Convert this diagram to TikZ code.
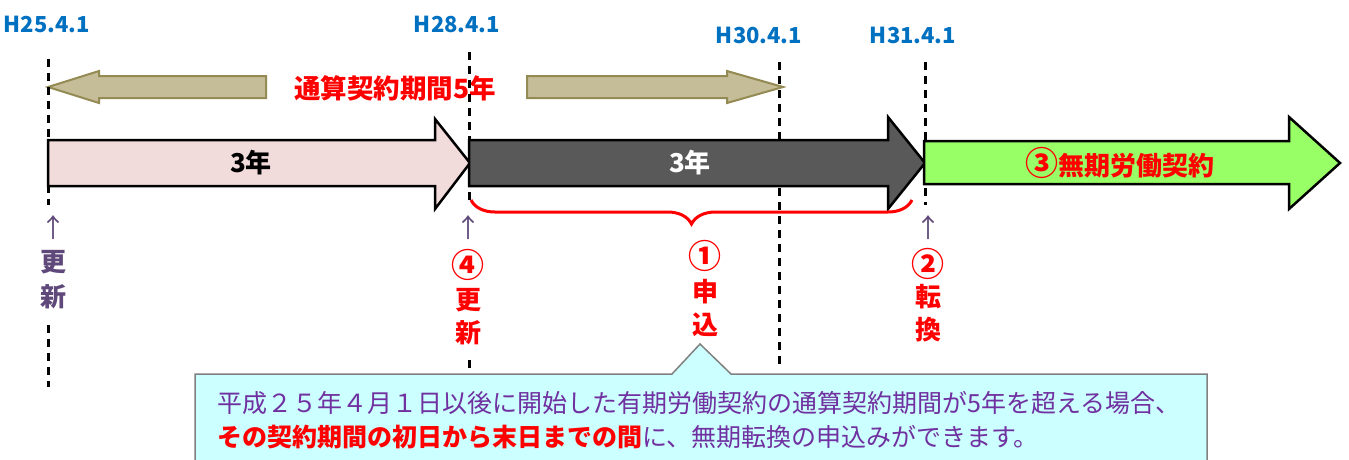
\documentclass[tikz,border=0pt]{standalone}
\usepackage{fontspec}
\setmainfont{Noto Sans CJK JP}
\usetikzlibrary{decorations.pathreplacing}
\definecolor{tanfill}{HTML}{C4BD97}
\definecolor{tanline}{HTML}{948A54}
\definecolor{pinkfill}{HTML}{F2DCDB}
\definecolor{darkfill}{HTML}{595959}
\definecolor{greenfill}{HTML}{99FF66}
\definecolor{dateblue}{HTML}{0070C0}
\definecolor{mypurple}{HTML}{5F497A}
\definecolor{textpurple}{HTML}{7030A0}
\definecolor{calloutfill}{HTML}{CCFFFF}
\definecolor{calloutline}{HTML}{808080}
\definecolor{myred}{HTML}{FF0000}
\newcommand{\circnum}[1]{{\fontsize{33}{36}\selectfont #1}}
\begin{document}
\begin{tikzpicture}[x=1pt,y=-1pt,
  datelbl/.style={text=dateblue,font=\fontsize{22}{26}\selectfont\bfseries,inner sep=0pt},
  vline/.style={black,line width=3pt,dash pattern=on 8pt off 6pt},
  tanarrow/.style={fill=tanfill,draw=tanline,line width=2pt,line join=miter},
  bigarrow/.style={draw=black,line width=2.5pt,line join=miter},
  arrowlbl/.style={inner sep=0pt,font=\fontsize{26}{30}\selectfont\bfseries},
  colchar/.style={inner sep=0pt,font=\fontsize{26}{30}\selectfont\bfseries},
  circchar/.style={inner sep=0pt,font=\fontsize{33}{36}\selectfont\bfseries},
  uparrow/.style={inner sep=0pt,text=mypurple,font=\fontsize{26}{30}\selectfont},
  callout/.style={fill=calloutfill,draw=calloutline,line width=1.5pt,line join=miter},
  callouttext/.style={anchor=west,inner sep=0pt,text=textpurple,font=\fontsize{25}{30}\selectfont}
]
\useasboundingbox (0,0) rectangle (1349,459);
\clip (0,0) rectangle (1349,459);

% date labels
\node[datelbl] (h25) at (47,24.5) {H25.4.1};
\node[datelbl] (h28) at (457,24.5) {H28.4.1};
\node[datelbl] (h30) at (759,35) {H30.4.1};
\node[datelbl] (h31) at (913,35) {H31.4.1};

% tan arrows (total 5 years)
\draw[tanarrow] (266,76) -- (99,76) -- (99,71) -- (48,87) -- (99,103) -- (99,98) -- (266,98) -- cycle;
\draw[tanarrow] (527,76) -- (727,76) -- (727,71) -- (783,87) -- (727,103) -- (727,98) -- (527,98) -- cycle;
\node[inner sep=0pt,text=myred,font=\fontsize{26.5}{30}\selectfont\bfseries] (total) at (395,88.5) {通算契約期間5年};

% dashed guide lines
\draw[vline] (48,59) -- (48,205);
\draw[vline] (48,325) -- (48,387);
\draw[vline] (469,52) -- (469,205);
\draw[vline] (469,360) -- (469,376);
\draw[vline] (779,62) -- (779,368);
\draw[vline] (925,62) -- (925,205);

% big arrows
\draw[bigarrow,fill=pinkfill] (48,140) -- (435,140) -- (435,119) -- (470,163) -- (435,209) -- (435,186) -- (48,186) -- cycle;
\draw[bigarrow,fill=darkfill] (469,140) -- (888,140) -- (888,117) -- (925,163) -- (888,209) -- (888,186) -- (469,186) -- cycle;
\draw[bigarrow,fill=greenfill] (924,141) -- (1289,141) -- (1289,117) -- (1340,163) -- (1289,209) -- (1289,184) -- (924,184) -- cycle;
\node[arrowlbl,text=black] (y1) at (251,163) {3年};
\node[arrowlbl,text=white] (y2) at (690,163) {3年};
\node[arrowlbl,text=myred] (muki) at (1120,163) {\circnum{③}無期労働契約};

% brace
\draw[myred,line width=3pt,decorate,decoration={brace,amplitude=24pt,mirror}] (471,200) -- (912,200);

% column: renewal at H25
\node[uparrow] (ua) at (53,228) {↑};
\node[colchar,text=mypurple] (a1) at (53,262) {更};
\node[colchar,text=mypurple] (a2) at (53,297) {新};

% column: renewal at H28
\node[uparrow] (ub) at (468,228) {↑};
\node[circchar,text=myred] (b0) at (468,265) {④};
\node[colchar,text=myred] (b1) at (468,300) {更};
\node[colchar,text=myred] (b2) at (468,333) {新};

% column: application
\node[circchar,text=myred] (c0) at (705,256) {①};
\node[colchar,text=myred] (c1) at (705,292) {申};
\node[colchar,text=myred] (c2) at (705,325) {込};

% column: conversion
\node[uparrow] (ud) at (928,228) {↑};
\node[circchar,text=myred] (d0) at (928,264) {②};
\node[colchar,text=myred] (d1) at (928,297) {転};
\node[colchar,text=myred] (d2) at (928,330) {換};

% callout
\draw[callout] (195,480) -- (195,374) -- (672,374) -- (700,344) -- (731,374) -- (1207,374) -- (1207,480);
\node[callouttext] (line1) at (217,403) {平成２５年４月１日以後に開始した有期労働契約の通算契約期間が5年を超える場合、};
\node[callouttext] (line2) at (217,437) {\textcolor{myred}{\bfseries その契約期間の初日から末日までの間}に、無期転換の申込みができます。};
\end{tikzpicture}
\end{document}
